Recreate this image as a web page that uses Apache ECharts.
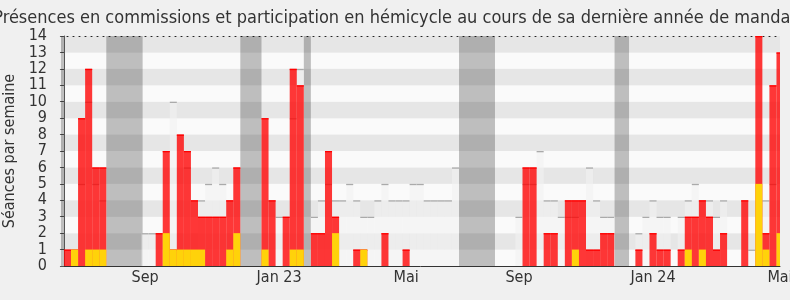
<!DOCTYPE html>
<html><head><meta charset="utf-8">
<script src="https://cdn.jsdelivr.net/npm/echarts@6/dist/echarts.min.js"></script>
<style>html,body{margin:0;padding:0;background:#f0f0f0}#c{width:790px;height:300px}</style>
</head><body><div id="c"></div>
<script>
const chartTitle = "Présences en commissions et participation en hémicycle au cours de sa dernière année de mandat";
const yAxisName = "Séances par semaine";
const monthLabels = ['Sep', 'Jan 23', 'Mai', 'Sep', 'Jan 24', 'Mai'];
const monthLabelWeeks = [11, 30, 48, 64, 83, 101];
const yTicks = [0,1,2,3,4,5,6,7,8,9,10,11,12,13,14];
// vacation periods, in week units [start, end]
const vacations = [[-1, 0], [6, 11.15], [25, 28], [34, 35], [56, 61.1], [78.05, 80.1]];
// weekly values, week 0..101
const commissionPresence = [
  1,1,9,12,6,6,0,0,0,0,
  0,0,0,2,7,1,8,7,4,3,
  3,3,3,4,6,0,0,0,9,4,
  0,3,12,11,0,2,2,7,3,0,
  0,1,1,0,0,2,0,0,1,0,
  0,0,0,0,0,0,0,0,0,0,
  0,0,0,0,0,6,6,0,2,2,
  0,4,4,4,1,1,2,2,0,0,
  0,1,0,2,1,1,0,1,3,3,
  4,3,1,2,0,0,4,0,14,2,
  11,13];
const commissionInterventions = [
  0,1,0,1,1,1,0,0,0,0,
  0,0,0,0,2,1,1,1,1,1,
  0,0,0,1,2,0,0,0,1,0,
  0,0,1,1,0,0,0,0,2,0,
  0,0,1,0,0,0,0,0,0,0,
  0,0,0,0,0,0,0,0,0,0,
  0,0,0,0,0,0,0,0,0,0,
  0,0,1,0,0,0,0,0,0,0,
  0,0,0,0,0,0,0,0,1,0,
  1,0,0,0,0,0,0,0,5,1,
  0,2];
const hemicyclePresence = [
  0,0,5,10,5,4,0,0,0,0,
  0,2,2,0,0,10,0,6,0,4,
  5,6,5,0,0,0,0,0,0,0,
  3,0,9,12,0,3,4,5,4,4,
  5,4,3,3,4,5,4,4,4,5,
  5,4,4,4,4,6,0,0,0,0,
  0,0,0,0,3,5,5,7,4,4,
  3,3,3,0,6,4,3,3,0,0,
  0,2,3,4,3,3,0,3,4,5,
  0,4,3,4,0,0,0,1,0,4,
  5,0];

const FONT = "'DejaVu Sans Condensed', 'DejaVu Sans', sans-serif";
const X_MIN = -0.42, X_MAX = 101.5;

function clip(r, cs) {
  return echarts.graphic.clipRectByRect(r, {x: cs.x, y: cs.y, width: cs.width, height: cs.height});
}
function barRender(fill, topColor, topW) {
  return function (params, api) {
    const k = api.value(0), v = api.value(1);
    if (!v) return null;
    const a = api.coord([k, v]), b = api.coord([k + 1, 0]);
    const r = clip({x: a[0], y: a[1], width: b[0] - a[0], height: b[1] - a[1]}, params.coordSys);
    if (!r) return null;
    const children = [{type: 'rect', shape: r, style: {fill: fill}}];
    if (topColor) children.push({type: 'rect', shape: {x: r.x, y: r.y, width: r.width, height: topW}, style: {fill: topColor}});
    return {type: 'group', children: children};
  };
}
function vacRender(params, api) {
  const a = api.coord([api.value(0), 14]), b = api.coord([api.value(1), 0]);
  const r = clip({x: a[0], y: a[1], width: b[0] - a[0], height: b[1] - a[1]}, params.coordSys);
  if (!r) return null;
  return {type: 'rect', shape: r, style: {fill: 'rgba(0,0,0,0.24)'}};
}
const toPairs = arr => arr.map((v, i) => [i, v]);

const chart = echarts.init(document.getElementById('c'), null, {renderer: 'canvas'});
chart.setOption({
  backgroundColor: '#f0f0f0',
  animation: false,
  graphic: [{
    type: 'text', x: 395, y: 18, z: 10,
    style: {text: chartTitle, fontSize: 18, fontFamily: FONT, fill: '#333',
      align: 'center', verticalAlign: 'middle', textAlign: 'center', textVerticalAlign: 'middle'}
  }],
  grid: {left: 61, right: 10, top: 36, bottom: 34, containLabel: false, outerBoundsMode: 'none'},
  xAxis: [{
    type: 'value', min: X_MIN, max: X_MAX, position: 'bottom',
    axisLine: {show: true, onZero: false, lineStyle: {color: '#333', width: 1}},
    axisTick: {show: false},
    splitLine: {show: false},
    axisLabel: {
      customValues: monthLabelWeeks.map(w => w + 0.5),
      formatter: v => { const i = monthLabelWeeks.indexOf(Math.round(v - 0.5)); return i >= 0 ? monthLabels[i] : ''; },
      fontSize: 16, fontFamily: FONT, color: '#333', margin: 4, hideOverlap: false,
      showMinLabel: true, showMaxLabel: true
    }
  }, {
    type: 'value', min: X_MIN, max: X_MAX, position: 'top',
    axisLine: {show: true, onZero: false, lineStyle: {color: '#222', width: 1, type: [1, 5]}},
    axisTick: {show: false}, axisLabel: {show: false}, splitLine: {show: false}
  }],
  yAxis: {
    type: 'value', min: 0, max: 14, interval: 1,
    name: yAxisName, nameLocation: 'middle', nameRotate: 90, nameGap: 35,
    nameTextStyle: {fontSize: 16, fontFamily: FONT, color: '#333'},
    axisLine: {show: true, lineStyle: {color: '#555'}},
    axisTick: {show: true, length: 4, lineStyle: {color: '#555'}},
    axisLabel: {fontSize: 16, fontFamily: FONT, color: '#333', margin: 14,
      formatter: v => String(yTicks[Math.round(v)])},
    splitLine: {show: false},
    splitArea: {show: true, areaStyle: {color: ['#fafafa', '#e6e6e6']}}
  },
  series: [
    {type: 'custom', name: 'vacances', renderItem: vacRender, data: vacations, encode: {x: [0, 1]}, z: 1, silent: true, clip: true},
    {type: 'custom', name: 'hémicycle', renderItem: barRender('rgba(242,242,242,0.6)', '#aaaaaa', 1.3), data: toPairs(hemicyclePresence), encode: {x: 0, y: 1}, z: 2},
    {type: 'custom', name: 'présences commission', renderItem: barRender('rgba(255,0,0,0.78)', '#ff0000', 1.3), data: toPairs(commissionPresence), encode: {x: 0, y: 1}, z: 3},
    {type: 'custom', name: 'interventions commission', renderItem: barRender('#ffd20a', null, 0), data: toPairs(commissionInterventions), encode: {x: 0, y: 1}, z: 4}
  ]
});
</script></body></html>
